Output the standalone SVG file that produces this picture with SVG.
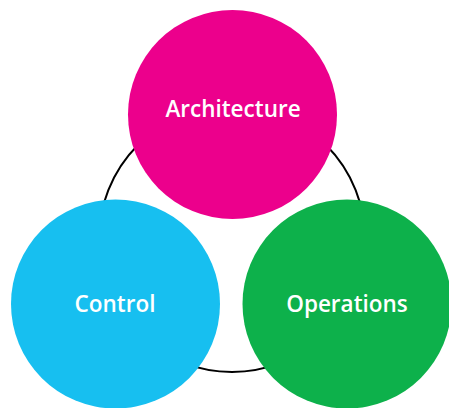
<svg xmlns="http://www.w3.org/2000/svg" width="449" height="408" viewBox="0 0 449 408">
<style>
.lbl{font-family:"Open Sans","Liberation Sans",sans-serif;font-size:22.5px;font-weight:600;fill:#fff;text-anchor:middle}
</style>
<rect width="449" height="408" fill="#fff"/>
<g id="connectors">
<circle cx="232" cy="239" r="133" fill="none" stroke="#000" stroke-width="2"/>
</g>
<g id="architecture">
<circle cx="232.5" cy="114.5" r="104.5" fill="#EC008C"/>
<text class="lbl" x="233" y="117">Architecture</text>
</g>
<g id="control">
<circle cx="115.5" cy="304" r="104.5" fill="#17BFF0"/>
<text class="lbl" x="115" y="312">Control</text>
</g>
<g id="operations">
<circle cx="347" cy="304" r="104.5" fill="#0DB14B"/>
<text class="lbl" x="347" y="312">Operations</text>
</g>
</svg>
